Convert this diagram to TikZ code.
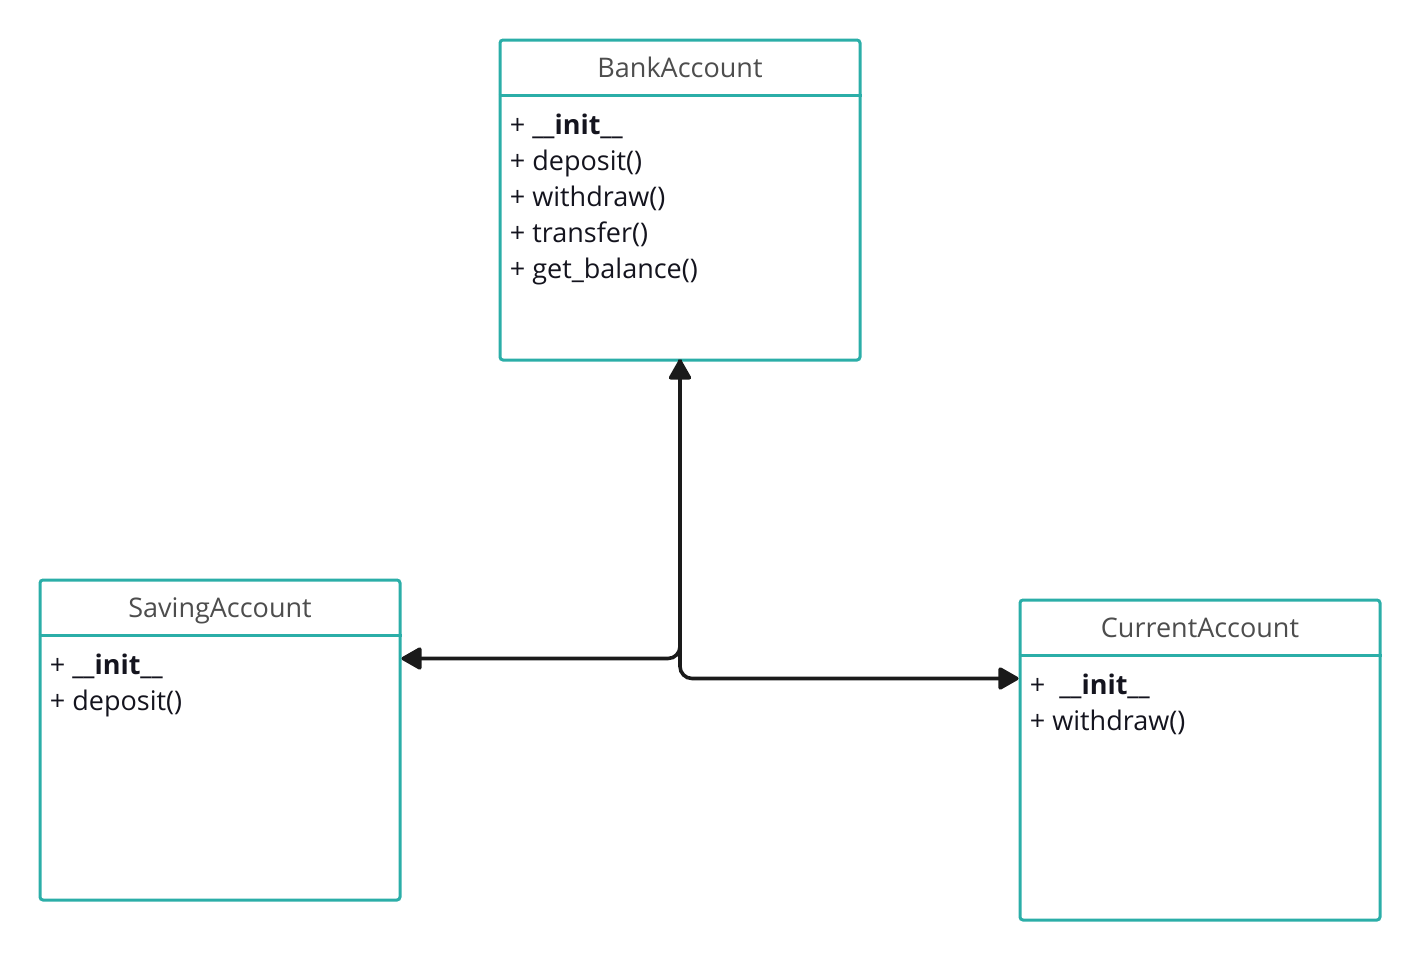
\documentclass[tikz,border=0pt]{standalone}
\usepackage{fontspec}
\setmainfont{Open Sans}
\usepackage{tikz}
\usetikzlibrary{arrows.meta,positioning}
\definecolor{umlteal}{RGB}{43,174,168}
\definecolor{umltitle}{RGB}{77,77,77}
\definecolor{umltext}{RGB}{20,20,30}
\definecolor{umlline}{RGB}{26,26,26}

\begin{document}
\begin{tikzpicture}[x=0.5pt, y=-0.5pt,
  classbox/.style={draw=umlteal, line width=1.5pt, rounded corners=1.5pt,
    minimum width=180pt, minimum height=160pt, inner sep=0pt},
  classname/.style={text=umltitle, font=\fontsize{13.5}{16}\selectfont, inner sep=0pt},
  member/.style={text=umltext, font=\fontsize{13.5}{16}\selectfont, inner sep=0pt},
  sep/.style={draw=umlteal, line width=1.5pt},
  link/.style={draw=umlline, line width=1.8pt, rounded corners=6pt,
    -{Triangle[length=11pt, width=12pt, round]}}]
  \useasboundingbox (0,0) rectangle (1421,960);

  % classes
  \node[classbox] (bank) at (680,200) {};
  \node[classbox] (saving) at (220,740) {};
  \node[classbox] (current) at (1200,760) {};

  \draw[sep] ([yshift=-28.5pt]bank.north west) -- ([yshift=-28.5pt]bank.north east);
  \draw[sep] ([yshift=-28.5pt]saving.north west) -- ([yshift=-28.5pt]saving.north east);
  \draw[sep] ([yshift=-28.5pt]current.north west) -- ([yshift=-28.5pt]current.north east);

  \node[classname, anchor=base] (bank-t) at ([yshift=-19.5pt]bank.north) {BankAccount};
  \node[classname, anchor=base] (saving-t) at ([yshift=-19.5pt]saving.north) {SavingAccount};
  \node[classname, anchor=base] (current-t) at ([yshift=-19.5pt]current.north) {CurrentAccount};

  \foreach \txt [count=\i] in {{+ \textbf{\_\_init\_\_}}, + deposit(), + withdraw(), + transfer(), + get\_balance()}
    \node[member, anchor=base west] (bank-\i) at ([xshift=5.5pt, yshift={-48pt-(\i-1)*18pt}]bank.north west) {\txt};
  \foreach \txt [count=\i] in {{+ \textbf{\_\_init\_\_}}, + deposit()}
    \node[member, anchor=base west] (saving-\i) at ([xshift=5.5pt, yshift={-48pt-(\i-1)*18pt}]saving.north west) {\txt};
  \foreach \txt [count=\i] in {{+~~\textbf{\_\_init\_\_}}, + withdraw()}
    \node[member, anchor=base west] (current-\i) at ([xshift=5.5pt, yshift={-48pt-(\i-1)*18pt}]current.north west) {\txt};

  % inheritance
  \coordinate (savein) at ([yshift=-40pt]saving.north east);
  \coordinate (curin) at ([yshift=-40pt]current.north west);
  \draw[link, {Triangle[length=11pt, width=12pt, round]}-{Triangle[length=11pt, width=12pt, round]}] (savein) -| ([yshift=1pt]bank.south);
  \draw[link] ([yshift=1pt]bank.south) |- (curin);
\end{tikzpicture}
\end{document}
